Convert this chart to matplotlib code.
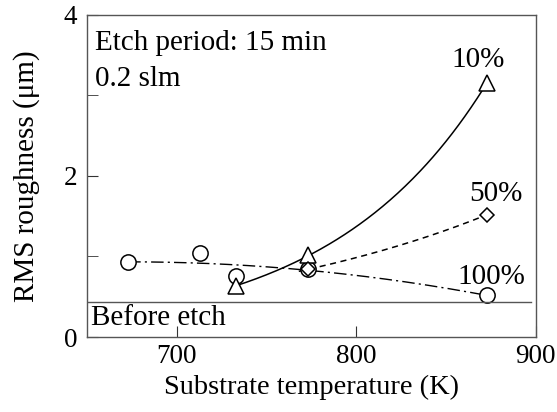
import numpy as np
import matplotlib
matplotlib.use("Agg")
import matplotlib.pyplot as plt

plt.rcParams['font.family'] = ['Liberation Serif', 'DejaVu Serif']

# Data
t100 = [673, 713, 733, 773, 873]
r100 = [0.93, 1.04, 0.76, 0.84, 0.52]
t10 = [733, 773, 873]
r10 = [0.63, 1.02, 3.15]
t50 = [773, 873]
r50 = [0.84, 1.52]
before_etch = 0.44
series_labels = ["10%", "50%", "100%"]

fig = plt.figure(figsize=(5.57, 4.12), dpi=100)
ax = fig.add_axes([0.156, 0.182, 0.806, 0.782])

# Trend curves (fits of the data)
x10 = np.linspace(t10[0], t10[-1], 200)
c10 = np.polyfit(t10, np.log(r10), 1)
ax.plot(x10, np.exp(np.polyval(c10, x10)), color='black', lw=1.1)

x50 = np.linspace(768, t50[-1], 200)
c50 = np.polyfit(t50, np.log(r50), 1)
ax.plot(x50, np.exp(np.polyval(c50, x50)), color='black', lw=1.1, ls=(0, (4, 3)))

tt = (np.array(t100) - t100[0]) ** 2
A = np.vstack([np.ones_like(tt, dtype=float), tt]).T
coef, *_ = np.linalg.lstsq(A, np.array(r100), rcond=None)
x100 = np.linspace(t100[0], t100[-1], 200)
ax.plot(x100, coef[0] + coef[1] * (x100 - t100[0]) ** 2, color='black', lw=1.0,
        ls=(0, (9, 3, 1.5, 3)))

ax.plot(t100, r100, ls='none', marker='o', ms=11, mfc='white', mec='black', mew=1.1)
ax.plot(t10, r10, ls='none', marker='^', ms=11.5, mfc='white', mec='black', mew=1.1)
ax.plot(t50, r50, ls='none', marker='D', ms=7.5, mfc='white', mec='black', mew=1.1)

ax.axhline(before_etch, xmin=0, xmax=0.99, color='#555555', lw=1.0)

ax.set_xlim(650, 900)
ax.set_ylim(0, 4)
ax.set_xticks([700, 800, 900])
ax.set_yticks([0, 2, 4])
ax.set_yticks([1, 3], minor=True)
ax.tick_params(axis='both', which='both', direction='in', labelsize=19.5, color='#333333')
ax.tick_params(axis='y', which='both', length=8, pad=7)
ax.tick_params(axis='x', which='major', length=8, pad=5)
for s in ax.spines.values():
    s.set_color('#555555')
    s.set_linewidth(1.0)

ax.set_xlabel('Substrate temperature (K)', fontsize=20.5)
ax.set_ylabel('RMS roughness (μm)', fontsize=21)
ax.xaxis.set_label_coords(0.5, -0.118)
ax.yaxis.set_label_coords(-0.105, 0.5)

ax.text(0.018, 0.912, 'Etch period: 15 min', transform=ax.transAxes, fontsize=21, va='center', ha='left')
ax.text(0.018, 0.80, '0.2 slm', transform=ax.transAxes, fontsize=21, va='center', ha='left')
ax.text(0.010, 0.06, 'Before etch', transform=ax.transAxes, fontsize=21, va='center', ha='left')
ax.text(868, 3.44, series_labels[0], fontsize=21, ha='center', va='center')
ax.text(878, 1.78, series_labels[1], fontsize=21, ha='center', va='center')
ax.text(875, 0.75, series_labels[2], fontsize=21, ha='center', va='center')

fig.savefig('out.png', dpi=100)
